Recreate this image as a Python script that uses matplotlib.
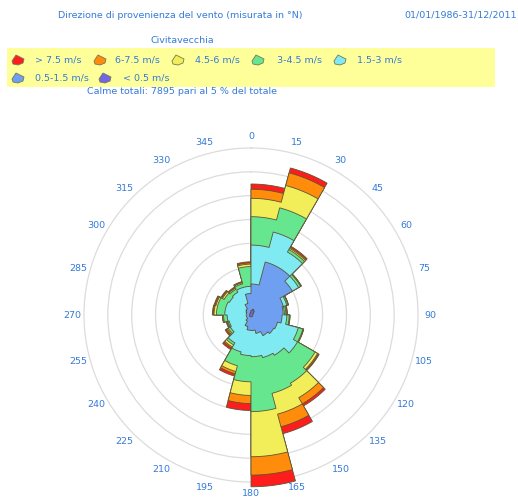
# -*- coding: utf-8 -*-
import numpy as np
import matplotlib
matplotlib.use('Agg')
import matplotlib.pyplot as plt
from matplotlib.patches import Polygon, Rectangle

# direction sectors (degrees from N, clockwise), 15 deg wide
sectors = np.arange(0, 360, 15)

# frequency per speed class and sector (same units as the grid rings)
calm_05 = [0.20, 0.25, 0.20, 0.12, 0.08, 0.08, 0.08, 0.08, 0.08, 0.08, 0.08, 0.08,
           0.08, 0.08, 0.08, 0.06, 0.06, 0.06, 0.06, 0.06, 0.06, 0.06, 0.08, 0.12]
v05_15 = [1.10, 2.05, 2.10, 1.88, 1.32, 1.27, 1.22, 1.07, 1.02, 0.92, 0.72, 0.57,
          0.56, 0.42, 0.22, 0.14, 0.14, 0.14, 0.14, 0.14, 0.19, 0.24, 0.42, 0.78]
v15_3 = [1.63, 1.30, 0.75, 0.30, 0.15, 0.05, 0.20, 0.90, 1.15, 0.95, 1.05, 1.10,
         1.06, 1.10, 1.05, 0.80, 0.75, 0.80, 0.90, 0.90, 0.80, 0.80, 0.70, 0.30]
v3_45 = [1.19, 1.05, 0.12, 0.10, 0.05, 0.06, 0.10, 0.20, 0.85, 1.35, 1.55, 2.30,
         1.10, 0.60, 0.10, 0.10, 0.05, 0.15, 0.35, 0.35, 0.25, 0.15, 0.15, 0.83]
v45_6 = [0.77, 0.97, 0.06, 0.02, 0.01, 0.03, 0.02, 0.02, 0.12, 0.70, 0.90, 1.89,
         0.57, 0.25, 0.10, 0.05, 0.03, 0.03, 0.10, 0.07, 0.08, 0.05, 0.05, 0.10]
v6_75 = [0.38, 0.55, 0.05, 0.01, 0.01, 0.02, 0.01, 0.01, 0.04, 0.30, 0.55, 0.77,
         0.34, 0.10, 0.05, 0.05, 0.02, 0.01, 0.03, 0.04, 0.04, 0.03, 0.02, 0.05]
v75 = [0.22, 0.21, 0.05, 0.01, 0.01, 0.02, 0.01, 0.01, 0.04, 0.10, 0.30, 0.49,
       0.29, 0.10, 0.08, 0.05, 0.03, 0.01, 0.04, 0.04, 0.04, 0.03, 0.03, 0.05]

classes = ['< 0.5 m/s', '0.5-1.5 m/s', '1.5-3 m/s', '3-4.5 m/s',
           '4.5-6 m/s', '6-7.5 m/s', '> 7.5 m/s']
colors = ['#7366e6', '#6e9ff0', '#7feaf2', '#66e68e', '#f2ee5a', '#ff8c0a', '#ff1c1c']
ring_values = [1, 2, 3, 4, 5, 6, 7]

title = 'Direzione di provenienza del vento (misurata in \u00b0N)'
period = '01/01/1986-31/12/2011'
station = 'Civitavecchia'
calme = 'Calme totali: 7895 pari al 5 % del totale'

txt_col = '#347ad8'
edge_col = '#5a5535'
fs = 6.8
plt.rcParams['font.family'] = ['DejaVu Sans']

W, H = 518, 499
fig = plt.figure(figsize=(W / 100, H / 100), dpi=100)

# polar axes: centre at (251, 315) px, 1 unit ~ 23.86 px
rmax = 7.6
rad_px = rmax * 23.86
cx, cy = 251, 315
ax = fig.add_axes([(cx - rad_px) / W, (H - cy - rad_px) / H, 2 * rad_px / W, 2 * rad_px / H],
                  projection='polar')
ax.set_theta_zero_location('N')
ax.set_theta_direction(-1)
ax.set_ylim(0, rmax)
ax.set_yticks(ring_values)
ax.set_yticklabels([])
ax.set_xticks([])
ax.xaxis.grid(False)
ax.yaxis.grid(True, color='#dcdcdc', lw=0.9)
ax.spines['polar'].set_visible(False)
ax.set_axisbelow(True)
ax.patch.set_alpha(0)

# stacked layers drawn as step polygons, outermost first
series = [calm_05, v05_15, v15_3, v3_45, v45_6, v6_75, v75]
cum = np.cumsum(np.array(series), axis=0)
for i in range(len(series) - 1, -1, -1):
    th, rr = [], []
    for k, s in enumerate(sectors):
        t = np.radians(np.linspace(s, s + 15, 12))
        th.extend(t)
        rr.extend([cum[i][k]] * len(t))
    ax.fill(th, rr, facecolor=colors[i], edgecolor=edge_col, lw=0.6, zorder=2)

for s in sectors:
    ax.text(np.radians(s), 7.5, str(s), color=txt_col, fontsize=fs,
            ha='center', va='center', clip_on=False)

# header and legend in pixel coordinates
ov = fig.add_axes([0, 0, 1, 1])
ov.set_xlim(0, W)
ov.set_ylim(H, 0)
ov.axis('off')
ov.patch.set_alpha(0)

ov.text(58, 15, title, color=txt_col, fontsize=fs, va='center', ha='left')
ov.text(517, 15, period, color=txt_col, fontsize=fs, va='center', ha='right')
ov.text(182, 40, station, color=txt_col, fontsize=fs, va='center', ha='center')
ov.add_patch(Rectangle((7, 47.5), 488, 39.5, facecolor='#ffff99', edgecolor='none'))
ov.text(87, 91, calme, color=txt_col, fontsize=fs, va='center', ha='left')

blob = np.array([[-6, 1], [-2, -5], [2, -3], [6, -1], [5, 3], [0, 5], [-5, 4]])
legend_pos = [(18, 60, 35), (100, 60, 115), (178, 60, 195), (258, 60, 277),
              (340, 60, 357), (18, 78, 35), (105, 78, 123)]
order = [6, 5, 4, 3, 2, 1, 0]
for (ix, iy, tx), ci in zip(legend_pos, order):
    ov.add_patch(Polygon(blob + [ix, iy], closed=True, facecolor=colors[ci],
                         edgecolor='#777755', lw=0.6))
    ov.text(tx, iy, classes[ci], color=txt_col, fontsize=fs, va='center', ha='left')

fig.savefig('out.png', dpi=100)
